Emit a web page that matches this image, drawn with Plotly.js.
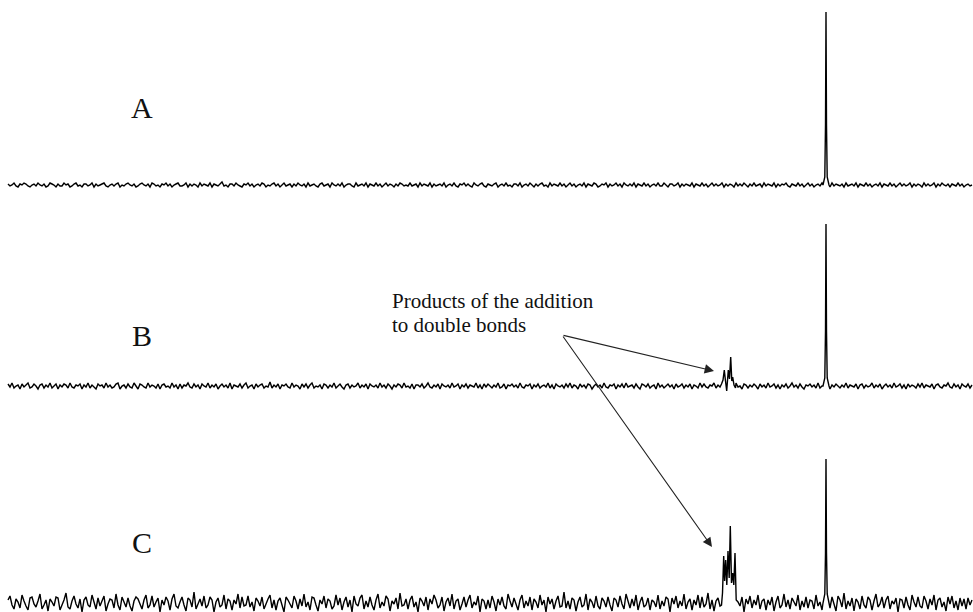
<!DOCTYPE html>
<html>
<head>
<meta charset="utf-8">
<script src="https://cdn.plot.ly/plotly-3.0.1.min.js"></script>
<style>html,body{margin:0;padding:0;background:#fff;}#chart{width:973px;height:612px;}</style>
</head>
<body>
<div id="chart"></div>
<script>
// Channel grid (spectrum sampled along the horizontal axis)
const gridStart = 8;
const gridStep = 2;

// Baseline noise, spectrum A (a.u.)
const noiseA = [
1,-1,0,2,-1,-2,1,0,2,1,-1,-2,0,1,-1,2,0,-1,1,-2,
-1,2,1,0,-2,1,-1,-1,2,0,1,-2,-1,1,2,-1,0,-2,1,1,
-1,0,2,-2,1,-1,0,1,2,-1,-2,0,1,-1,1,2,-2,0,-1,1,
2,0,-1,1,-2,-1,1,2,0,-1,1,-2,2,1,-1,0,-2,1,0,2,
-1,1,-2,0,1,2,-1,-1,0,2,-2,1,-1,1,0,-2,2,-1,1,0,
-1,2,-2,1,0,-1,1,3,-1,0,-2,1,1,-1,2,0,-1,-2,1,0,
2,-1,1,-2,0,1,-1,2,1,-2,0,-1,1,2,-1,1,-2,0,2,-1,
0,1,-2,1,-1,2,0,-1,1,-2,2,-1,0,1,-1,-2,1,2,-1,0,
1,-2,2,0,-1,1,-1,2,-2,0,1,1,-1,-2,2,-1,0,1,-1,2,
-2,1,0,-1,2,-1,1,-2,0,2,-1,1,0,-2,1,-1,2,1,-1,0,
-1,2,-1,0,1,-2,2,-1,1,0,-1,2,-2,1,-1,0,1,-1,2,-2,
0,1,-1,2,-1,-2,1,0,2,-1,1,-1,-2,2,0,-1,1,2,-1,-2,
1,0,-1,1,2,-2,0,1,-1,2,-1,0,-2,1,1,-1,2,-2,0,1,
-1,2,0,-2,1,-1,1,2,-1,0,-2,2,-1,1,0,-1,2,-1,1,-2,
0,2,-1,1,-2,0,1,-1,2,-2,1,0,-1,2,1,-2,-1,1,0,2,
-2,1,-1,0,2,-1,1,-2,2,0,-1,1,-1,2,-2,1,0,-1,2,-1,
1,-2,0,1,-1,2,-1,-1,2,0,-2,1,1,-1,0,2,-2,1,-1,1,
0,-1,2,-2,1,0,-1,2,-1,1,-2,0,2,-1,1,-1,0,2,-2,1,
-1,1,0,-2,2,-1,1,-1,2,0,-2,1,-1,2,-1,0,1,-2,2,-1,
1,0,-1,2,-2,1,-1,1,0,2,-1,-2,1,0,-1,2,-1,1,-2,0,
2,-1,1,-2,0,1,-1,2,-1,0,1,-2,2,-1,1,0,-1,1,-2,2,
-1,0,1,-1,2,-2,1,0,-1,2,-1,1,-2,0,1,-1,2,-2,1,0,
-1,2,-1,1,-2,0,2,-1,1,-1,0,2,-2,1,-1,1,0,-2,2,-1,
1,-1,0,2,-2,1,-1,2,0,-1,1,-2,1,0,-1,2,-1,1,-2,0,
1,-1,0
];

// Baseline noise, spectrum B (a.u.)
const noiseB = [
2,-1,3,-2,0,1,-3,2,-1,1,3,-2,-1,2,0,-3,1,2,-2,1,
-1,3,-2,0,2,-3,1,-1,2,1,-2,3,-1,-2,1,0,2,-3,1,-1,
3,-2,1,-1,-3,2,0,1,-2,3,-1,1,-2,-1,2,3,-3,0,1,-2,
2,-1,-2,3,0,-3,2,1,-1,-2,3,-1,1,0,-2,2,-3,1,2,-1,
0,-2,3,-1,1,-3,2,-2,1,0,3,-1,-2,2,-1,1,-3,2,0,-1,
3,-2,1,-1,2,-3,0,2,-1,1,-2,3,-3,1,0,-1,2,-2,1,3,
-2,0,1,-3,2,-1,1,2,-2,0,-1,4,-2,1,-1,2,-3,1,0,2,
-1,-2,3,-1,1,0,-3,2,-1,2,-2,1,3,-2,0,-1,1,-3,2,1,
-2,1,-1,3,-2,0,2,-1,-3,1,2,-2,1,-1,0,3,-2,1,-1,2,
-3,2,0,-1,1,-2,3,-1,1,-2,2,0,-3,1,-1,2,1,-2,3,-1,
0,-2,2,-3,1,1,-1,2,-2,0,3,-1,-2,1,-1,2,-3,2,0,-1,
1,-2,3,-1,0,2,-3,1,-1,2,-2,1,0,-1,3,-2,1,-3,2,-1,
2,0,-2,1,-1,3,-2,-1,2,-3,1,0,2,-1,1,-2,3,-1,-2,1,
0,2,-3,1,-1,2,-2,0,1,-1,3,-2,1,-3,2,0,-1,1,-2,2,
-1,3,-2,1,0,-3,2,-1,1,-2,2,1,-3,0,2,-1,1,-2,3,-1,
-2,1,0,2,-3,1,-1,2,-2,3,-1,0,1,-2,2,-1,-3,2,1,-1,
2,-2,0,1,-3,3,-1,1,-2,0,2,-1,1,-3,2,-1,0,2,-2,1,
-1,2,-3,1,0,-2,3,-1,2,-1,-2,1,0,3,-2,1,-1,2,-3,0,
1,-1,2,-2,3,-1,0,-3,2,1,-2,1,-1,2,0,-3,2,-1,1,-2,
3,-1,0,2,-2,1,-3,1,-1,2,-2,0,3,-1,1,-2,2,-1,-3,1,
0,2,-1,1,-2,3,-2,0,1,-1,2,-3,1,-1,2,0,-2,1,-1,3,
-2,1,0,-1,2,-3,1,2,-2,1,-1,0,3,-2,1,-1,2,-3,0,2,
-1,1,-2,3,-1,0,2,-2,1,-3,2,-1,1,0,-2,2,-1,3,-2,1,
0,-1,2,-3,1,2,-1,-2,1,0,3,-1,-2,2,-1,1,-3,2,0,-1,
2,-2,1
];

// Baseline noise, spectrum C (a.u.)
const noiseC = [
3,7,-2,-6,4,1,-5,8,2,-3,-7,5,6,-1,-4,2,9,-6,-2,3,
-8,4,1,-3,6,5,-7,-2,3,10,-4,-6,2,7,-1,-5,4,-9,3,6,
-2,-4,8,1,-6,5,-3,2,7,-8,-1,4,3,-5,9,-2,-7,6,1,-4,
5,-3,-8,2,6,4,-1,-6,3,8,-5,-2,7,-4,1,5,-9,3,-2,6,
2,-7,4,9,-3,-5,1,6,-2,-8,5,3,-4,11,-6,-1,4,-3,7,-5,
-2,6,3,-9,1,5,-4,-2,8,-6,4,2,-7,3,-1,9,-5,6,-3,-2,
7,-4,1,-8,5,2,-3,6,-6,-1,4,8,-5,3,-7,2,5,-2,-9,6,
3,-1,-5,7,2,-6,4,-3,9,-4,1,-7,6,5,-2,-8,3,-1,7,-5,
4,2,-6,-3,8,-2,5,-7,1,6,-4,3,-9,7,-1,-3,5,8,-6,2,
-4,6,-2,-7,3,9,-5,1,-3,7,4,-8,2,-1,5,-6,10,-3,-2,4,
-6,3,7,-4,1,-9,5,2,-3,6,-7,4,-1,8,3,-5,-2,6,-8,1,
5,-3,9,-6,2,4,-7,-1,6,-4,3,8,-5,1,-2,7,-9,4,2,-6,
3,-5,7,1,-8,4,-2,6,-3,-6,9,2,-4,5,-1,-7,3,8,-5,2,
-3,6,-7,4,1,-5,8,-2,3,-9,6,-1,4,-6,2,7,-4,-3,11,-5,
2,-6,5,3,-8,1,6,-4,-2,9,-7,4,1,-5,7,-3,-6,5,2,-4,
6,-2,-8,5,3,-4,7,-1,-6,9,2,-5,4,-3,8,-7,1,6,-4,-2,
5,-7,3,1,-4,8,-6,2,-3,6,4,-9,5,-1,7,-5,2,-3,9,-6,
1,4,-7,3,-2,8,-5,6,-4,-1,10,-6,3,-8,2,5,-3,-6,7,-2,
8,-4,2,-7,5,1,-3,6,-9,4,-1,7,-5,3,-2,8,-6,2,4,-7,
3,-2,6,-8,1,7,-5,-2,9,-4,3,-6,5,1,-3,8,-7,2,-4,6,
-5,3,2,-6,8,-3,1,-7,9,-2,4,-5,6,-1,-8,7,3,-4,10,-6,
2,-3,5,-8,4,1,-6,7,-2,-5,6,3,-7,2,9,-4,-1,6,-5,3,
7,-6,2,-1,5,-9,4,3,-5,6,-2,-7,8,1,-4,6,-3,-5,7,2,
-6,4,-2,8,-7,3,5,-4,1,-8,6,-1,7,-5,2,-7,5,-3,4,-6,
5,-2,3
];

// Main (reference) line, present in all three spectra
const mainPeakX = [823, 824.8, 825.5, 826, 826.5, 827.2, 829];
const mainPeakA = [0, 8, 60, 173, 60, 8, 0];
const mainPeakB = [0, 8, 55, 162, 55, 8, 0];
const mainPeakC = [0, 9, 50, 144, 50, 9, 0];

// Multiplet: products of the addition to double bonds
const multXB = [721.5, 723, 724.3, 725.5, 726.7, 728.3, 729.5, 730.7, 731.8, 732.7, 734, 735.5];
const multYB = [2, 6, 16, 5, -5, 16, 7, 29, 5, 9, 1, -2];
const multXC = [721.5, 722.5, 723.7, 724.6, 725.7, 726.8, 728, 729.2, 730.3, 731.5, 732.7, 733.8, 735, 736.2];
const multYC = [-2, 10, 47, 22, 43, 18, 52, 25, 77, 20, 30, 18, 50, 3];

// Labels
const spectrumLabels = ['A', 'B', 'C'];
const noteLines = ['Products of the addition', 'to double bonds'];

function buildSeries(noise, groups) {
  let pts = noise.map((v, i) => [gridStart + i * gridStep, v]);
  groups.forEach(g => {
    const lo = g.x[0], hi = g.x[g.x.length - 1];
    pts = pts.filter(p => p[0] < lo || p[0] > hi);
    g.x.forEach((x, i) => pts.push([x, g.y[i]]));
  });
  pts.sort((a, b) => a[0] - b[0]);
  return {x: pts.map(p => p[0]), y: pts.map(p => p[1])};
}

const sA = buildSeries(noiseA, [{x: mainPeakX, y: mainPeakA}]);
const sB = buildSeries(noiseB, [{x: mainPeakX, y: mainPeakB}, {x: multXB, y: multYB}]);
const sC = buildSeries(noiseC, [{x: mainPeakX, y: mainPeakC}, {x: multXC, y: multYC}]);

const lineStyle = {color: '#000', width: 1.4, simplify: false};
const traces = [
  {x: sA.x, y: sA.y, type: 'scatter', mode: 'lines', line: lineStyle, yaxis: 'y', hoverinfo: 'skip'},
  {x: sB.x, y: sB.y, type: 'scatter', mode: 'lines', line: lineStyle, yaxis: 'y2', hoverinfo: 'skip'},
  {x: sC.x, y: sC.y, type: 'scatter', mode: 'lines', line: lineStyle, yaxis: 'y3', hoverinfo: 'skip'}
];

const W = 973, H = 612;
const hidden = {visible: false, showgrid: false, zeroline: false, fixedrange: true};

const labelY = [107.5, 335.5, 542.5];
const annotations = spectrumLabels.map((t, i) => ({
  text: t, xref: 'paper', yref: 'paper', x: 142 / W, y: 1 - labelY[i] / H,
  xanchor: 'center', yanchor: 'middle', showarrow: false,
  font: {family: 'Times New Roman', size: 30, color: '#111'}
}));
const noteY = [301, 325];
noteLines.forEach((t, i) => annotations.push({
  text: t, xref: 'paper', yref: 'paper', x: 390 / W, y: 1 - noteY[i] / H,
  xanchor: 'left', yanchor: 'middle', showarrow: false,
  font: {family: 'serif', size: 21, color: '#111'}
}));
const tail = [562, 335];
const heads = [[714, 371], [712, 547]];
heads.forEach(h => annotations.push({
  text: '', xref: 'paper', yref: 'paper', x: h[0] / W, y: 1 - h[1] / H,
  showarrow: true, axref: 'pixel', ayref: 'pixel',
  ax: tail[0] - h[0], ay: tail[1] - h[1],
  arrowhead: 2, arrowsize: 1.7, arrowwidth: 1.1, arrowcolor: '#222', standoff: 0
}));

const layout = {
  width: W, height: H,
  margin: {l: 0, r: 0, t: 0, b: 0, pad: 0},
  paper_bgcolor: '#fff', plot_bgcolor: '#fff',
  showlegend: false,
  xaxis: Object.assign({range: [0, W]}, hidden),
  yaxis: Object.assign({domain: [1 - 200 / H, 1], range: [-15, 185]}, hidden),
  yaxis2: Object.assign({domain: [1 - 405 / H, 1 - 205 / H], range: [-19, 181]}, hidden),
  yaxis3: Object.assign({domain: [0, 1 - 410 / H], range: [-9, 193]}, hidden),
  annotations: annotations
};

Plotly.newPlot('chart', traces, layout, {displayModeBar: false, staticPlot: true});
</script>
</body>
</html>
